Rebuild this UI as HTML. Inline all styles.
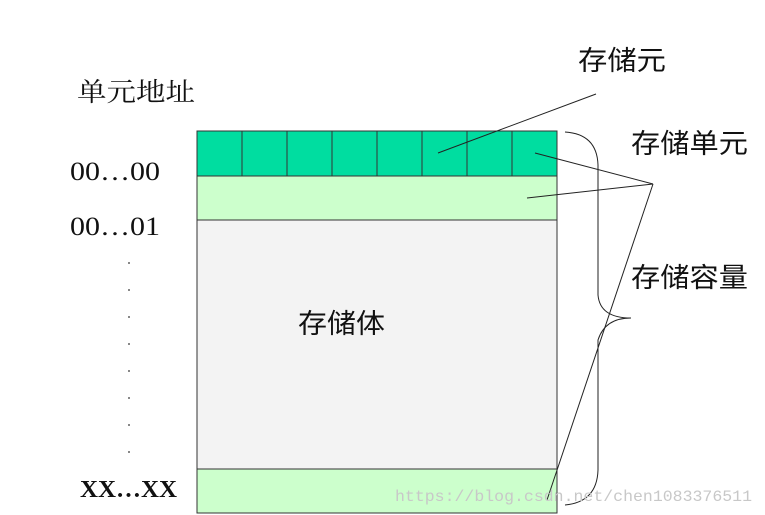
<!DOCTYPE html>
<html><head><meta charset="utf-8"><style>
html,body{margin:0;padding:0;background:#fff;width:765px;height:515px;overflow:hidden}
</style></head><body>
<svg width="765" height="515" xmlns="http://www.w3.org/2000/svg">
<rect x="197" y="131" width="360" height="45" fill="#00dda0" stroke="#333" stroke-width="1"/>
<g stroke="#333" stroke-width="1">
<line x1="242" y1="131" x2="242" y2="176"/><line x1="287" y1="131" x2="287" y2="176"/>
<line x1="332" y1="131" x2="332" y2="176"/><line x1="377" y1="131" x2="377" y2="176"/>
<line x1="422" y1="131" x2="422" y2="176"/><line x1="467" y1="131" x2="467" y2="176"/>
<line x1="512" y1="131" x2="512" y2="176"/>
</g>
<rect x="197" y="176" width="360" height="44" fill="#ccffcc" stroke="#333"/>
<rect x="197" y="220" width="360" height="249" fill="#f3f3f3" stroke="#333"/>
<rect x="197" y="469" width="360" height="44" fill="#ccffcc" stroke="#333"/>
<g fill="none" stroke="#222" stroke-width="1">
<path d="M565 132 Q597 134 598 165 L598 295 Q600 318 631 318 Q605 318 598 340 L598 470 Q597 502 565 505"/>
<line x1="596" y1="94" x2="438" y2="153"/>
<line x1="653" y1="184" x2="535" y2="153"/>
<line x1="653" y1="184" x2="527" y2="198"/>
<line x1="653" y1="184" x2="547" y2="500"/>
</g>
<g font-family="'Liberation Serif','Noto Serif CJK SC',serif" fill="#111">
<text x="77" y="101" font-size="26" textLength="118" lengthAdjust="spacingAndGlyphs">单元地址</text>
<text x="70" y="180" font-size="26" textLength="90" lengthAdjust="spacingAndGlyphs">00…00</text>
<text x="70" y="235" font-size="26" textLength="90" lengthAdjust="spacingAndGlyphs">00…01</text>
<text x="80" y="497" font-size="24" font-weight="bold" textLength="97" lengthAdjust="spacingAndGlyphs">XX…XX</text>
</g>
<g fill="#888">
<rect x="128" y="262" width="2" height="2"/><rect x="128" y="289" width="2" height="2"/>
<rect x="128" y="316" width="2" height="2"/><rect x="128" y="343" width="2" height="2"/>
<rect x="128" y="370" width="2" height="2"/><rect x="128" y="397" width="2" height="2"/>
<rect x="128" y="424" width="2" height="2"/><rect x="128" y="451" width="2" height="2"/>
</g>
<g font-family="'Liberation Sans','Noto Sans CJK SC',sans-serif" fill="#111" font-size="27">
<text x="298" y="333" textLength="87" lengthAdjust="spacingAndGlyphs">存储体</text>
<text x="578" y="70" textLength="88" lengthAdjust="spacingAndGlyphs">存储元</text>
<text x="631" y="153" textLength="117" lengthAdjust="spacingAndGlyphs">存储单元</text>
<text x="631" y="287" textLength="117" lengthAdjust="spacingAndGlyphs">存储容量</text>
</g>
<text x="395" y="501" font-family="'Liberation Mono',monospace" font-size="16" fill="#c8c8c8" textLength="357" lengthAdjust="spacingAndGlyphs">https://blog.csdn.net/chen1083376511</text>
</svg>
</body></html>
